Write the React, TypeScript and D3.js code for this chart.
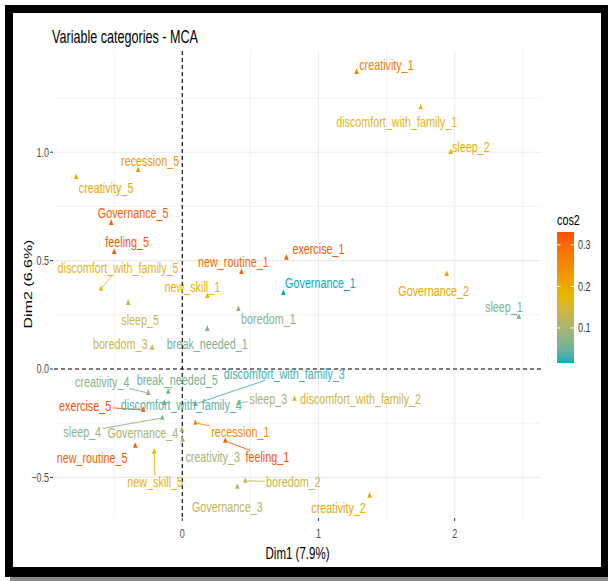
import { useEffect, useRef } from "react";
import * as d3 from "d3";

// MCA variable categories: coordinates on Dim1 / Dim2 and quality (cos2)
const categories = [
  "creativity_1", "creativity_2", "creativity_3", "creativity_4", "creativity_5",
  "discomfort_with_family_1", "discomfort_with_family_2", "discomfort_with_family_3",
  "discomfort_with_family_4", "discomfort_with_family_5",
  "sleep_1", "sleep_2", "sleep_3", "sleep_4", "sleep_5",
  "Governance_1", "Governance_2", "Governance_3", "Governance_4", "Governance_5",
  "boredom_1", "boredom_2", "boredom_3",
  "break_needed_1", "break_needed_5",
  "recession_1", "recession_5",
  "feeling_1", "feeling_5",
  "new_routine_1", "new_routine_5",
  "new_skill_1", "new_skill_5",
  "exercise_1", "exercise_5",
];
const dim1 = [
  1.279, 1.375, 0.003, -0.25, -0.779,
  1.75, 0.824, 0.096, -0.132, -0.596,
  2.471, 1.971, 0.412, -0.147, -0.397,
  0.743, 1.941, 0.404, -0.002, -0.522,
  0.412, 0.463, -0.221,
  0.184, -0.103,
  0.096, -0.324,
  0.316, -0.5,
  0.434, -0.346,
  0.184, -0.206,
  0.765, -0.287,
];
const dim2 = [
  1.369, -0.585, -0.327, -0.111, 0.885,
  1.207, -0.138, -0.161, -0.157, 0.369,
  0.24, 1.0, -0.157, -0.226, 0.304,
  0.35, 0.438, -0.544, -0.281, 0.673,
  0.276, -0.516, 0.097,
  0.184, -0.106,
  -0.249, 0.917,
  -0.332, 0.539,
  0.447, -0.355,
  0.336, -0.382,
  0.512, -0.189,
];
const cos2 = [
  0.27, 0.2, 0.1, 0.07, 0.2,
  0.16, 0.14, 0.03, 0.04, 0.17,
  0.06, 0.19, 0.1, 0.07, 0.14,
  0.0157, 0.2, 0.12, 0.1, 0.31,
  0.07, 0.13, 0.14,
  0.06, 0.06,
  0.25, 0.23,
  0.32, 0.32,
  0.3, 0.31,
  0.18, 0.18,
  0.32, 0.331,
];

const xTicks = [0, 1, 2];
const yTicks = [-0.5, 0, 0.5, 1.0];
const cos2Ticks = [0.1, 0.2, 0.3];
const gradientCols = ["#00AFBB", "#E7B800", "#FC4E07"];

// repelled label placement (px, label centre minus point)
const labelShift: Record<string, [number, number]> = {
  recession_5: [12, -9],
  creativity_5: [30, 11],
  Governance_5: [22, -10],
  feeling_5: [13, -10],
  discomfort_with_family_5: [17, -21],
  sleep_5: [12, 17],
  boredom_3: [-32, -4],
  new_skill_1: [-15, -9],
  new_routine_1: [-8, -10],
  break_needed_1: [0, 15],
  boredom_1: [30, 10],
  exercise_1: [32, -9],
  Governance_1: [37, -10],
  creativity_1: [30, -7],
  discomfort_with_family_1: [-24, 14],
  sleep_2: [20, -5],
  Governance_2: [-13, 17],
  sleep_1: [-15, -10],
  discomfort_with_family_2: [66, 0],
  sleep_3: [30, -4],
  discomfort_with_family_3: [89, -30],
  discomfort_with_family_4: [17, 2],
  sleep_4: [-80, 14],
  exercise_5: [-58, -4],
  creativity_4: [-46, -11],
  break_needed_5: [9, -12],
  Governance_4: [-39, 3],
  creativity_3: [30, 17],
  recession_1: [45, 9],
  feeling_1: [42, 16],
  boredom_2: [48, 1],
  Governance_3: [-10, 20],
  creativity_2: [-31, 12],
  new_routine_5: [-43, 12],
  new_skill_5: [1, 30],
};
const withSegment = new Set([
  "discomfort_with_family_5", "sleep_3", "discomfort_with_family_3", "sleep_4",
  "exercise_5", "creativity_4", "break_needed_5", "recession_1", "feeling_1",
  "boredom_2", "new_skill_5", "sleep_1",
]);

const W = 608;
const H = 581;
const SQ = 0.72; // the picture is squeezed horizontally
const panel = { left: 54, right: 541, top: 51, bottom: 517 };
const FONT = "'Liberation Sans', Arial, sans-serif";

const sq = (x: number, y: number, rot = 0) =>
  `translate(${x},${y}) scale(${SQ},1)` + (rot ? ` rotate(${rot})` : "");

const expand = (v: number[]) => {
  const [lo, hi] = d3.extent(v) as [number, number];
  const pad = (hi - lo) * 0.05;
  return [lo - pad, hi + pad];
};

export default function App() {
  const ref = useRef<SVGSVGElement>(null);

  useEffect(() => {
    const svg = d3.select(ref.current);
    svg.selectAll("*").remove();

    // frame around the picture
    svg.append("rect").attr("width", W).attr("height", H).attr("fill", "#fff");
    svg.append("rect").attr("x", 10).attr("y", 576).attr("width", W - 10).attr("height", 5).attr("fill", "#8a8a8a");
    svg.append("rect").attr("x", 5).attr("y", 5).attr("width", W - 5).attr("height", 572).attr("fill", "#000");
    svg.append("rect").attr("x", 13).attr("y", 13).attr("width", 588).attr("height", 554).attr("fill", "#fff");

    const x = d3.scaleLinear().domain(expand(dim1)).range([panel.left, panel.right]);
    const y = d3.scaleLinear().domain(expand(dim2)).range([panel.bottom, panel.top]);

    const [cmin, cmax] = d3.extent(cos2) as [number, number];
    const color = d3
      .scaleLinear<string>()
      .domain([cmin, (cmin + cmax) / 2, cmax])
      .range(gradientCols)
      .interpolate(d3.interpolateLab);

    // grid
    const grid = svg.append("g");
    const xMinor = xTicks.flatMap((t) => [t - 0.5, t + 0.5]).filter((v, i, a) => a.indexOf(v) === i);
    const yMinor = yTicks.flatMap((t) => [t - 0.25, t + 0.25]).filter((v, i, a) => a.indexOf(v) === i);
    const [x0, x1] = x.domain();
    const [y0, y1] = y.domain();
    xMinor.filter((v) => v > x0 && v < x1).forEach((v) => {
      grid.append("line").attr("x1", x(v)).attr("x2", x(v)).attr("y1", panel.top).attr("y2", panel.bottom)
        .attr("stroke", "#EBEBEB").attr("stroke-width", 0.6);
    });
    yMinor.filter((v) => v > y0 && v < y1).forEach((v) => {
      grid.append("line").attr("y1", y(v)).attr("y2", y(v)).attr("x1", panel.left).attr("x2", panel.right)
        .attr("stroke", "#EBEBEB").attr("stroke-width", 0.6);
    });
    xTicks.forEach((v) => {
      grid.append("line").attr("x1", x(v)).attr("x2", x(v)).attr("y1", panel.top).attr("y2", panel.bottom)
        .attr("stroke", "#EBEBEB").attr("stroke-width", 1.1);
    });
    yTicks.forEach((v) => {
      grid.append("line").attr("y1", y(v)).attr("y2", y(v)).attr("x1", panel.left).attr("x2", panel.right)
        .attr("stroke", "#EBEBEB").attr("stroke-width", 1.1);
    });

    // origin lines
    svg.append("line").attr("x1", panel.left).attr("x2", panel.right).attr("y1", y(0)).attr("y2", y(0))
      .attr("stroke", "#000").attr("stroke-width", 1.1).attr("stroke-dasharray", "4,3");
    svg.append("line").attr("x1", x(0)).attr("x2", x(0)).attr("y1", panel.top).attr("y2", panel.bottom)
      .attr("stroke", "#000").attr("stroke-width", 1.1).attr("stroke-dasharray", "4,3");

    // axes
    const axis = svg.append("g").attr("font-family", FONT);
    xTicks.forEach((v) => {
      axis.append("line").attr("x1", x(v)).attr("x2", x(v)).attr("y1", panel.bottom + 1).attr("y2", panel.bottom + 4)
        .attr("stroke", "#333").attr("stroke-width", 1);
      axis.append("text").attr("transform", sq(x(v), 538)).attr("text-anchor", "middle")
        .attr("font-size", 12.5).attr("fill", "#4D4D4D").text(d3.format("d")(v));
    });
    yTicks.forEach((v) => {
      axis.append("line").attr("x1", panel.left - 4).attr("x2", panel.left - 1).attr("y1", y(v)).attr("y2", y(v))
        .attr("stroke", "#333").attr("stroke-width", 1);
      axis.append("text").attr("transform", sq(panel.left - 5, y(v))).attr("dy", "0.35em").attr("text-anchor", "end")
        .attr("font-size", 12.5).attr("fill", "#4D4D4D").text(d3.format(".1f")(v));
    });
    axis.append("text").attr("transform", sq((panel.left + panel.right) / 2, 559)).attr("text-anchor", "middle")
      .attr("font-size", 16).attr("fill", "#000").text("Dim1 (7.9%)");
    axis.append("text").attr("transform", sq(32, (panel.top + panel.bottom) / 2, -90)).attr("text-anchor", "middle")
      .attr("font-size", 16).attr("fill", "#000").text("Dim2 (6.6%)");

    // title
    svg.append("text").attr("transform", sq(52, 43)).attr("font-family", FONT)
      .attr("font-size", 17.5).attr("fill", "#000").text("Variable categories - MCA");

    // points + repelled labels
    const pts = categories.map((name, i) => {
      const px = x(dim1[i]);
      const py = y(dim2[i]);
      const [dx, dy] = labelShift[name] || [0, -10];
      return { name, px, py, lx: px + dx, ly: py + dy, col: color(cos2[i]) };
    });

    const segLayer = svg.append("g");
    const ptLayer = svg.append("g");
    const lblLayer = svg.append("g").attr("font-family", FONT);

    const tri = d3.symbol(d3.symbolTriangle, 18)();
    pts.forEach((p) => {
      ptLayer.append("path").attr("d", tri).attr("transform", sq(p.px, p.py)).attr("fill", p.col);
      const t = lblLayer.append("text").attr("transform", sq(p.lx, p.ly)).attr("dy", "0.35em")
        .attr("text-anchor", "middle").attr("font-size", 15).attr("fill", p.col).text(p.name);
      if (withSegment.has(p.name)) {
        const node = t.node() as SVGTextElement;
        const hw = (node.getComputedTextLength() * SQ) / 2 + 1.5;
        const hh = 6.5;
        const ddx = p.px - p.lx;
        const ddy = p.py - p.ly;
        const k = Math.min(Math.abs(ddx) > 0 ? hw / Math.abs(ddx) : Infinity, Math.abs(ddy) > 0 ? hh / Math.abs(ddy) : Infinity);
        if (k < 1) {
          const ex = p.lx + k * ddx;
          const ey = p.ly + k * ddy;
          const len = Math.hypot(p.px - ex, p.py - ey);
          const s = Math.min(2 / len, 1);
          segLayer.append("line").attr("x1", p.px - (p.px - ex) * s).attr("y1", p.py - (p.py - ey) * s)
            .attr("x2", ex).attr("y2", ey).attr("stroke", p.col).attr("stroke-width", 0.9);
        }
      }
    });

    // colour bar legend
    const bar = { x: 557, w: 17, top: 232, bottom: 363 };
    const cy = d3.scaleLinear().domain([cmin, cmax]).range([bar.bottom, bar.top]);
    const grad = svg.append("defs").append("linearGradient").attr("id", "cos2grad")
      .attr("x1", 0).attr("y1", 1).attr("x2", 0).attr("y2", 0);
    d3.range(0, 1.0001, 0.05).forEach((f) => {
      grad.append("stop").attr("offset", f).attr("stop-color", color(cmin + f * (cmax - cmin)));
    });
    svg.append("rect").attr("x", bar.x).attr("y", bar.top).attr("width", bar.w).attr("height", bar.bottom - bar.top)
      .attr("fill", "url(#cos2grad)");
    const leg = svg.append("g").attr("font-family", FONT);
    cos2Ticks.forEach((v) => {
      leg.append("line").attr("x1", bar.x).attr("x2", bar.x + 3.5).attr("y1", cy(v)).attr("y2", cy(v))
        .attr("stroke", "#fff").attr("stroke-width", 1);
      leg.append("line").attr("x1", bar.x + bar.w - 3.5).attr("x2", bar.x + bar.w).attr("y1", cy(v)).attr("y2", cy(v))
        .attr("stroke", "#fff").attr("stroke-width", 1);
      leg.append("text").attr("transform", sq(bar.x + bar.w + 4, cy(v))).attr("dy", "0.35em")
        .attr("font-size", 12.5).attr("fill", "#333").text(d3.format(".1f")(v));
    });
    leg.append("text").attr("transform", sq(bar.x, 225)).attr("font-size", 15).attr("fill", "#000").text("cos2");
  }, []);

  return (
    <svg
      ref={ref}
      width={W}
      height={H}
      style={{ position: "absolute", left: 0, top: 0, display: "block" }}
    />
  );
}
